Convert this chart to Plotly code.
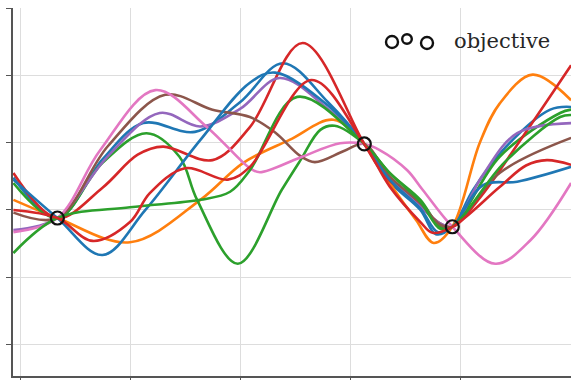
import plotly.graph_objects as go

# Observed objective points
obj_x = [0.34, 3.13, 3.93]
obj_y = [-0.12, 0.98, -0.25]

# Posterior sample paths (control points, drawn as smooth splines)
blue_a_x = [-0.06, 0.34, 0.75, 1.12, 1.59, 2.0, 2.39, 2.8, 3.13, 3.36, 3.64, 3.78, 3.93, 4.12, 4.39, 4.82, 5.01]
blue_a_y = [0.48, -0.12, 0.75, 1.29, 1.16, 1.6, 2.18, 1.6, 0.98, 0.42, 0.0, -0.36, -0.25, 0.3, 0.89, 1.49, 1.53]

orange_x = [-0.06, 0.34, 1.0, 1.64, 2.03, 2.45, 2.85, 3.13, 3.36, 3.6, 3.76, 3.93, 4.18, 4.36, 4.66, 5.01]
orange_y = [0.15, -0.12, -0.48, 0.15, 0.70, 1.04, 1.34, 0.98, 0.40, -0.15, -0.49, -0.25, 1.0, 1.58, 2.01, 1.63]

green_a_x = [-0.06, 0.34, 0.75, 1.15, 1.45, 1.61, 1.98, 2.38, 2.55, 2.73, 2.86, 3.13, 3.36, 3.64, 3.82, 3.93, 4.36, 4.91, 5.01]
green_a_y = [0.40, -0.12, 0.7, 1.14, 0.79, 0.15, -0.80, 0.30, 0.74, 1.19, 1.25, 0.98, 0.55, 0.15, -0.25, -0.25, 0.79, 1.44, 1.49]

red_a_x = [-0.06, 0.34, 0.75, 1.07, 1.30, 1.75, 2.09, 2.57, 3.13, 3.32, 3.60, 3.80, 3.93, 4.18, 4.55, 5.01]
red_a_y = [0.55, -0.12, 0.33, 0.82, 0.94, 0.74, 1.23, 2.48, 0.98, 0.50, 0.12, -0.18, -0.25, 0.18, 1.04, 2.15]

purple_x = [-0.06, 0.34, 0.8, 1.27, 1.64, 2.0, 2.36, 2.8, 3.13, 3.36, 3.64, 3.82, 3.93, 4.2, 4.52, 5.01]
purple_y = [-0.30, -0.12, 0.8, 1.44, 1.24, 1.5, 1.96, 1.5, 0.98, 0.48, 0.05, -0.20, -0.25, 0.5, 1.14, 1.29]

brown_x = [-0.06, 0.34, 0.8, 1.32, 1.75, 2.09, 2.32, 2.55, 2.68, 2.95, 3.13, 3.36, 3.64, 3.82, 3.93, 4.36, 5.01]
brown_y = [-0.04, -0.12, 0.95, 1.71, 1.49, 1.38, 1.15, 0.80, 0.71, 0.88, 0.98, 0.50, 0.10, -0.22, -0.25, 0.55, 1.07]

pink_x = [-0.06, 0.34, 0.73, 1.23, 1.70, 2.09, 2.18, 2.55, 2.91, 3.13, 3.27, 3.52, 3.66, 3.93, 4.32, 4.64, 5.01]
pink_y = [-0.33, -0.12, 0.89, 1.78, 1.23, 0.62, 0.56, 0.78, 0.99, 0.98, 0.89, 0.59, 0.30, -0.25, -0.80, -0.45, 0.40]

blue_b_x = [-0.06, 0.34, 0.75, 1.14, 1.64, 2.09, 2.32, 2.8, 3.13, 3.36, 3.64, 3.80, 3.93, 4.21, 4.52, 5.01]
blue_b_y = [0.45, -0.12, -0.67, 0.0, 1.04, 1.89, 2.04, 1.55, 0.98, 0.45, 0.02, -0.33, -0.25, 0.37, 0.42, 0.64]

green_c_x = [-0.06, 0.34, 1.0, 1.64, 1.91, 2.09, 2.52, 3.13, 3.36, 3.64, 3.82, 3.93, 4.4, 4.91, 5.01]
green_c_y = [-0.64, -0.12, 0.04, 0.15, 0.27, 0.59, 1.68, 0.98, 0.55, 0.12, -0.28, -0.25, 0.70, 1.38, 1.41]

red_c_x = [-0.06, 0.34, 0.66, 1.0, 1.18, 1.50, 1.89, 2.09, 2.65, 3.13, 3.36, 3.64, 3.75, 3.93, 4.36, 4.6, 4.79, 5.01]
red_c_y = [0.0, -0.12, -0.46, -0.18, 0.25, 0.62, 0.45, 0.64, 1.93, 0.98, 0.35, -0.18, -0.34, -0.25, 0.34, 0.66, 0.74, 0.67]

samples = [
    (blue_a_x, blue_a_y, "#1f77b4"),
    (orange_x, orange_y, "#ff7f0e"),
    (green_a_x, green_a_y, "#2ca02c"),
    (red_a_x, red_a_y, "#d62728"),
    (purple_x, purple_y, "#9467bd"),
    (brown_x, brown_y, "#8c564b"),
    (pink_x, pink_y, "#e377c2"),
    (blue_b_x, blue_b_y, "#1f77b4"),
    (green_c_x, green_c_y, "#2ca02c"),
    (red_c_x, red_c_y, "#d62728"),
]

fig = go.Figure()
for xs, ys, col in samples:
    fig.add_trace(go.Scatter(
        x=xs, y=ys, mode="lines",
        line=dict(color=col, width=2.6, shape="spline", smoothing=1.0),
        showlegend=False, hoverinfo="skip",
    ))

fig.add_trace(go.Scatter(
    x=obj_x, y=obj_y, mode="markers",
    marker=dict(symbol="circle-open", size=13, color="#111111", line=dict(width=2.2)),
    showlegend=False,
))

# Legend: three open circles and the label
legend_marks = [(392, 42, 6.0), (407, 39, 4.8), (427, 43, 6.0)]
shapes = []
for cx, cy, r in legend_marks:
    shapes.append(dict(
        type="circle", xref="paper", yref="paper",
        xsizemode="pixel", ysizemode="pixel",
        xanchor=(cx - 13) / 558, yanchor=1 - (cy - 8) / 368,
        x0=-r, x1=r, y0=-r, y1=r,
        line=dict(color="#111111", width=2.4),
    ))

fig.update_layout(
    width=571, height=380,
    margin=dict(l=13, r=0, t=8, b=4),
    paper_bgcolor="white", plot_bgcolor="white",
    shapes=shapes,
    annotations=[dict(
        text="objective", xref="paper", yref="paper",
        x=(452 - 13) / 558, y=1 - (41 - 8) / 368,
        xanchor="left", yanchor="middle", showarrow=False,
        font=dict(family="DejaVu Serif", size=21, color="#262626"),
    )],
)
fig.update_xaxes(
    range=[-0.0636, 5.009], tickvals=[0, 1, 2, 3, 4], showticklabels=False,
    showgrid=True, gridcolor="#dddddd", gridwidth=1, zeroline=False,
    showline=True, linecolor="#555555", linewidth=1.5,
    ticks="outside", ticklen=5, tickcolor="#555555",
)
fig.update_yaxes(
    range=[-2.467, 3.0], tickvals=[-2, -1, 0, 1, 2, 3], showticklabels=False,
    showgrid=True, gridcolor="#dddddd", gridwidth=1, zeroline=False,
    showline=True, linecolor="#555555", linewidth=1.5,
    ticks="outside", ticklen=5, tickcolor="#555555",
)

fig.write_html("out.html")
